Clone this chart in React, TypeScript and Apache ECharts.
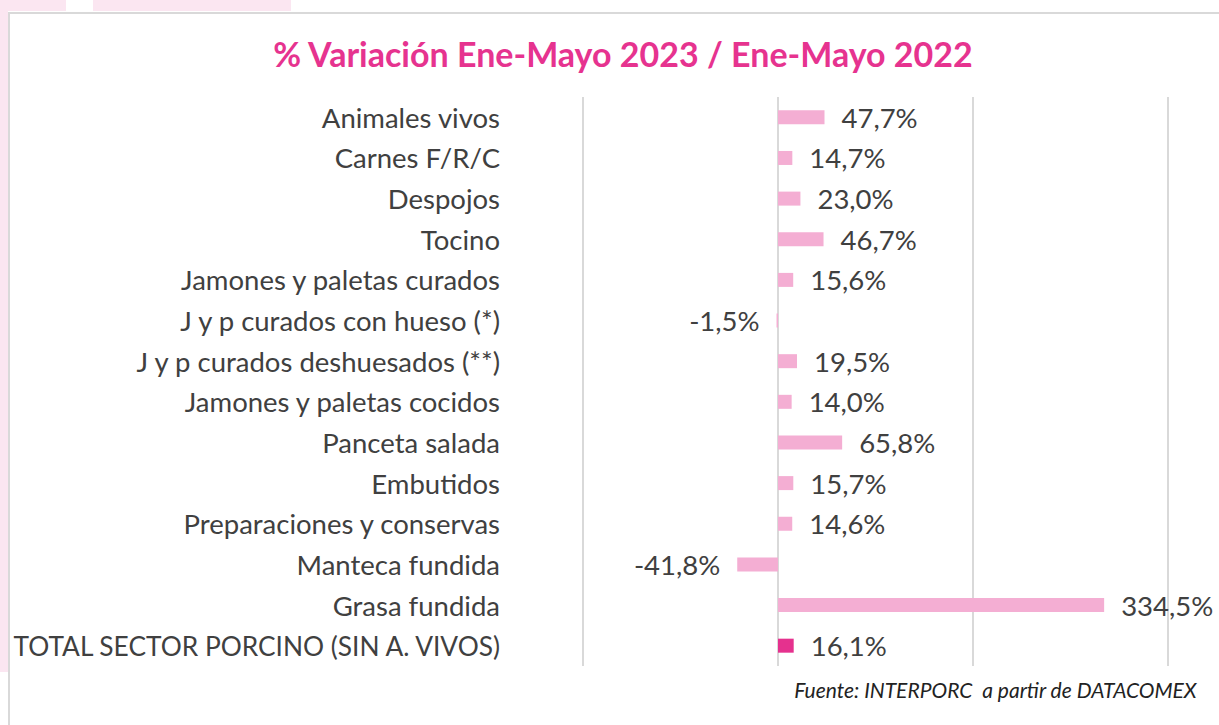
import React, { useEffect, useRef } from "react";
import * as echarts from "echarts";

const categories = [
  "Animales vivos",
  "Carnes F/R/C",
  "Despojos",
  "Tocino",
  "Jamones y paletas curados",
  "J y p curados con hueso (*)",
  "J y p curados deshuesados (**)",
  "Jamones y paletas cocidos",
  "Panceta salada",
  "Embutidos",
  "Preparaciones y conservas",
  "Manteca fundida",
  "Grasa fundida",
  "TOTAL SECTOR PORCINO (SIN A. VIVOS)",
];
const values = [47.7, 14.7, 23.0, 46.7, 15.6, -1.5, 19.5, 14.0, 65.8, 15.7, 14.6, -41.8, 334.5, 16.1];
const titleText = "% Variación Ene-Mayo 2023 / Ene-Mayo 2022";
const sourceText = "Fuente: INTERPORC  a partir de DATACOMEX";

const LIGHT = "#F4AED3";
const DARK = "#E5318E";
const TEXT = "#404040";
const FONT = "Lato, 'Open Sans', sans-serif";

export default function App() {
  const ref = useRef<HTMLDivElement>(null);
  useEffect(() => {
    if (!ref.current) return;
    const chart = echarts.init(ref.current, undefined, { renderer: "svg" });
    const last = categories.length - 1;
    chart.setOption({
      animation: false,
      backgroundColor: "#ffffff",
      title: {
        text: titleText,
        left: 618,
        textAlign: "center",
        top: 31,
        textStyle: { color: "#E6338F", fontSize: 34, fontWeight: "bold", fontFamily: FONT },
      },
      graphic: [
        { type: "rect", shape: { x: 0, y: 0, width: 8, height: 672 }, style: { fill: "#FBE6F1" }, silent: true },
        { type: "rect", shape: { x: 0, y: 0, width: 66, height: 11 }, style: { fill: "#FBE6F1" }, silent: true },
        { type: "rect", shape: { x: 93, y: 0, width: 198, height: 11 }, style: { fill: "#FBE6F1" }, silent: true },
        {
          type: "rect",
          shape: { x: 9, y: 13, width: 1300, height: 800 },
          style: { fill: "none", stroke: "#D9D9D9", lineWidth: 2 },
          silent: true,
        },
        {
          type: "text",
          right: 22,
          top: 679,
          style: {
            text: sourceText,
            fill: "#222222",
            font: `italic 21px ${FONT}`,
          },
        },
      ],
      grid: {
        left: 583,
        right: 51,
        top: 97,
        bottom: 59,
        containLabel: false,
        outerBoundsMode: "none",
      },
      xAxis: {
        type: "value",
        min: -200,
        max: 400,
        interval: 200,
        axisLabel: { show: false },
        axisLine: { show: false },
        axisTick: { show: false },
        splitLine: { show: true, lineStyle: { color: "#D9D9D9", width: 2 } },
      },
      yAxis: {
        type: "category",
        data: categories,
        inverse: true,
        axisLine: { show: false },
        axisTick: { show: false },
        axisLabel: {
          margin: 83,
          color: TEXT,
          fontSize: 27.5,
          fontFamily: FONT,
          formatter: (v: string, i: number) => (i === last ? `{t|${v}}` : v),
          rich: {
            t: { fontSize: 26.3, fontFamily: FONT, color: TEXT },
          },
        },
      },
      series: [
        {
          type: "bar",
          barWidth: 14,
          data: values.map((v, i) => ({
            value: v,
            itemStyle: { color: i === last ? DARK : LIGHT },
            label: { position: v < 0 ? "left" : "right" },
          })),
          label: {
            show: true,
            distance: 17,
            color: TEXT,
            fontSize: 27.5,
            fontFamily: FONT,
            formatter: (p: any) => p.value.toFixed(1).replace(".", ",") + "%",
          },
        },
      ],
    });
    return () => chart.dispose();
  }, []);
  return (
    <div
      ref={ref}
      style={{ position: "absolute", left: 0, top: 0, width: 1219, height: 725 }}
    />
  );
}
